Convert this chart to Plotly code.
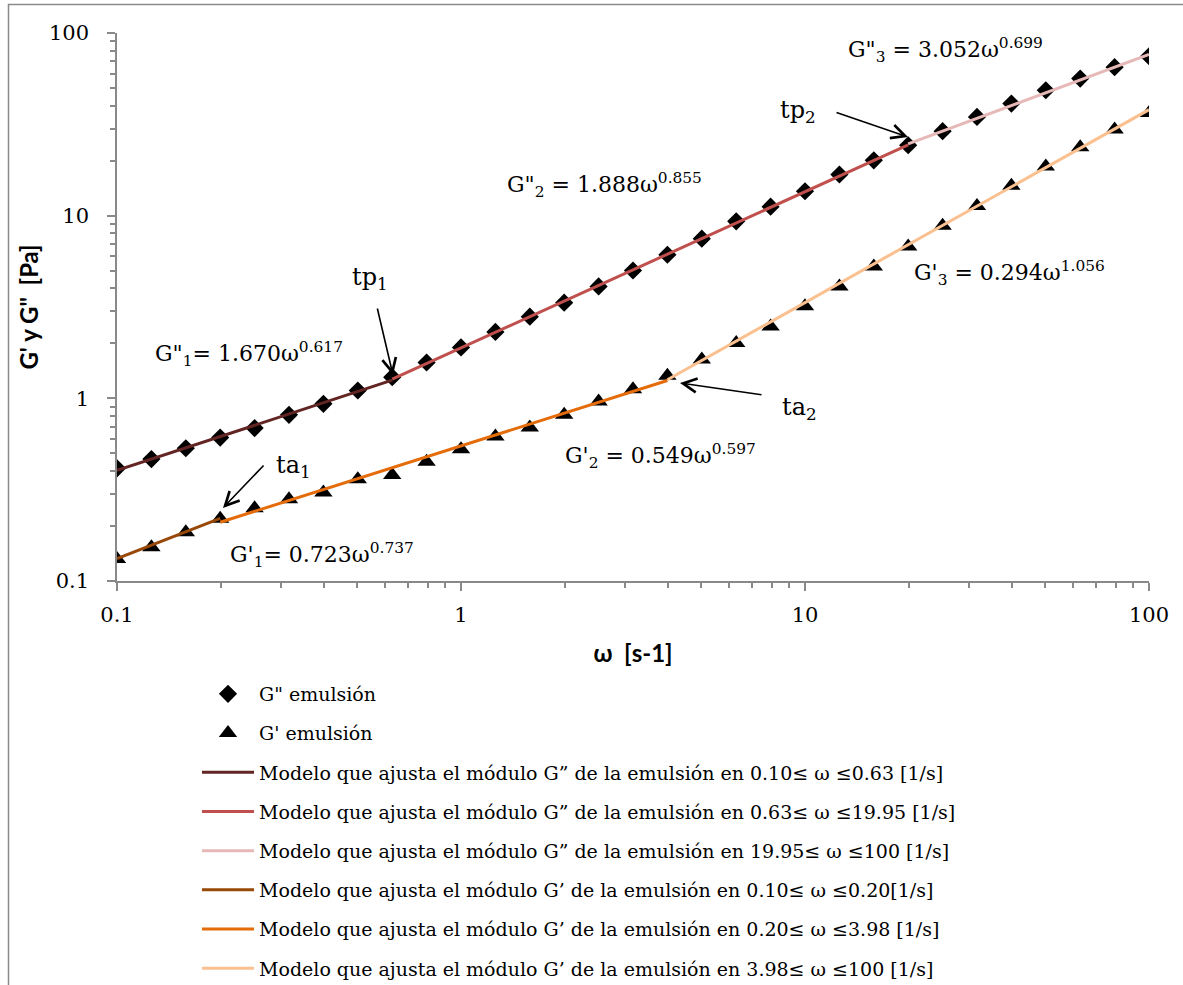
import plotly.graph_objects as go

# Angular frequency (rad/s) and measured moduli of the emulsion
omega = [0.1, 0.1259, 0.1585, 0.1995, 0.2512, 0.3162, 0.3981, 0.5012, 0.631, 0.7943,
         1.0, 1.259, 1.585, 1.995, 2.512, 3.162, 3.981, 5.012, 6.31, 7.943,
         10.0, 12.59, 15.85, 19.95, 25.12, 31.62, 39.81, 50.12, 63.1, 79.43, 100.0]
g_loss = [0.414, 0.465, 0.533, 0.610, 0.687, 0.812, 0.933, 1.104, 1.306, 1.571,
          1.90, 2.31, 2.80, 3.34, 4.10, 5.01, 6.11, 7.48, 9.31, 11.2,
          13.6, 16.8, 20.1, 24.3, 29.0, 34.7, 41.1, 48.6, 56.3, 65.0, 74.6]
g_storage = [0.132, 0.153, 0.185, 0.219, 0.250, 0.280, 0.305, 0.361, 0.381, 0.450,
             0.527, 0.618, 0.692, 0.812, 0.96, 1.12, 1.33, 1.63, 2.01, 2.47,
             3.19, 4.10, 5.27, 6.79, 8.82, 11.3, 14.6, 18.6, 23.7, 29.6, 36.5]

# Power-law fits  G = a * omega^b  on each frequency interval
loss_a = [1.670, 1.888, 3.052]
loss_b = [0.617, 0.855, 0.699]
loss_range = [(0.10, 0.631), (0.631, 19.95), (19.95, 100.0)]
storage_a = [0.723, 0.549, 0.294]
storage_b = [0.737, 0.597, 1.056]
storage_range = [(0.10, 0.1995), (0.1995, 3.981), (3.981, 100.0)]

loss_colors = ["#632523", "#C0504D", "#E6B9B8"]
storage_colors = ["#984807", "#E46C0A", "#FAC090"]

loss_names = [
    "Modelo que ajusta el módulo G” de la emulsión en 0.10≤ ω ≤0.63 [1/s]",
    "Modelo que ajusta el módulo G” de la emulsión en 0.63≤ ω ≤19.95 [1/s]",
    "Modelo que ajusta el módulo G” de la emulsión en 19.95≤ ω ≤100 [1/s]",
]
storage_names = [
    "Modelo que ajusta el módulo G’ de la emulsión en 0.10≤ ω ≤0.20[1/s]",
    "Modelo que ajusta el módulo G’ de la emulsión en 0.20≤ ω ≤3.98 [1/s]",
    "Modelo que ajusta el módulo G’ de la emulsión en 3.98≤ ω ≤100 [1/s]",
]

SERIF = "DejaVu Serif"
SANS = "Lato"

fig = go.Figure()
fig.add_trace(go.Scatter(x=omega, y=g_loss, mode="markers", name='G" emulsión',
                         legendgroup="a",
                         marker=dict(symbol="diamond", size=14, color="black")))
fig.add_trace(go.Scatter(x=omega, y=g_storage, mode="markers", name="G' emulsión",
                         legendgroup="b",
                         marker=dict(symbol="triangle-up", size=16, color="black")))


def fit_segment(a, b, lo, hi):
    xs = [lo] + [w for w in omega if lo < w < hi] + [hi]
    return xs, [a * w ** b for w in xs]


groups = "cdefgh"
k = 0
for a_list, b_list, rng, cols, names in (
        (loss_a, loss_b, loss_range, loss_colors, loss_names),
        (storage_a, storage_b, storage_range, storage_colors, storage_names)):
    for a, b, (lo, hi), c, n in zip(a_list, b_list, rng, cols, names):
        xs, ys = fit_segment(a, b, lo, hi)
        fig.add_trace(go.Scatter(x=xs, y=ys, mode="lines", name=n,
                                 legendgroup=groups[k],
                                 line=dict(color=c, width=3)))
        k += 1

# plot area in page pixels
L, R, T, B = 117, 1149, 33, 581


def px(x):
    return (x - L) / (R - L)


def py(y):
    return (B - y) / (B - T)


annotations = []
eq_font = dict(family=SERIF, size=22, color="black")
labels = [
    ('G"<sub>1</sub>= 1.670ω<sup>0.617</sup>', 153, 354),
    ('G"<sub>2</sub> = 1.888ω<sup>0.855</sup>', 505, 185),
    ('G"<sub>3</sub> = 3.052ω<sup>0.699</sup>', 846, 50),
    ("G'<sub>1</sub>= 0.723ω<sup>0.737</sup>", 228, 555),
    ("G'<sub>2</sub> = 0.549ω<sup>0.597</sup>", 563, 456),
    ("G'<sub>3</sub> = 0.294ω<sup>1.056</sup>", 912, 273),
]
for txt, x, y in labels:
    annotations.append(dict(text=txt, x=px(x), y=py(y), xref="paper", yref="paper",
                            xanchor="left", yanchor="middle", showarrow=False,
                            font=eq_font))

points = [
    ("tp<sub>1</sub>", 370, 278),
    ("tp<sub>2</sub>", 798, 112),
    ("ta<sub>1</sub>", 293, 466),
    ("ta<sub>2</sub>", 799, 408),
]
for txt, x, y in points:
    annotations.append(dict(text=txt, x=px(x), y=py(y), xref="paper", yref="paper",
                            xanchor="center", yanchor="middle", showarrow=False,
                            font=dict(family=SERIF, size=24, color="black")))

arrows = [
    (393, 375, -16, -68),
    (908, 137, -73, -25),
    (223, 508, 42, -44),
    (680, 383, 83, 12),
]
for x, y, ax, ay in arrows:
    annotations.append(dict(text="", x=px(x), y=py(y), xref="paper", yref="paper",
                            ax=ax, ay=ay, showarrow=True, arrowhead=5,
                            arrowsize=1.7, arrowwidth=1.6, arrowcolor="black"))

axis_grey = "#898989"
minor_vals = [m * 10.0 ** e for e in (-1, 0, 1) for m in range(2, 10)]
common_axis = dict(
    type="log", range=[-1, 2], showgrid=False, zeroline=False,
    showline=True, linecolor=axis_grey, linewidth=1.5,
    ticks="outside", ticklen=8, tickwidth=1.5, tickcolor=axis_grey,
    tickmode="array", tickvals=[0.1, 1, 10, 100], ticktext=["0.1", "1", "10", "100"],
    tickfont=dict(family=SERIF, size=21, color="black"),
    minor=dict(ticks="outside", ticklen=5, tickwidth=1.5, tickcolor=axis_grey,
               tickmode="array", tickvals=minor_vals, showgrid=False),
)

fig.update_layout(
    width=1183, height=985,
    margin=dict(l=L, r=1183 - R, t=T, b=985 - B, autoexpand=False),
    paper_bgcolor="white", plot_bgcolor="white",
    xaxis=dict(common_axis, ticklabelstandoff=6,
               title=dict(text="ω  [s-1]", standoff=19,
                          font=dict(family=SANS, size=24, color="black", weight="bold"))),
    yaxis=dict(common_axis, ticklabelstandoff=14,
               title=dict(text='G\' y G"  [Pa]', standoff=4,
                          font=dict(family=SANS, size=24, color="black", weight="bold"))),
    showlegend=True,
    legend=dict(x=px(197), y=py(675), xanchor="left", yanchor="top",
                traceorder="grouped", tracegroupgap=11.5, itemwidth=52,
                font=dict(family=SERIF, size=19, color="black"),
                bgcolor="rgba(0,0,0,0)", borderwidth=0),
    annotations=annotations,
    shapes=[dict(type="rect", xref="paper", yref="paper",
                 x0=px(8.5), x1=px(1195), y0=py(1000), y1=py(4.5),
                 line=dict(color="#8a8a8a", width=1.5), fillcolor="rgba(0,0,0,0)",
                 layer="below")],
)

fig.write_html("out.html")
